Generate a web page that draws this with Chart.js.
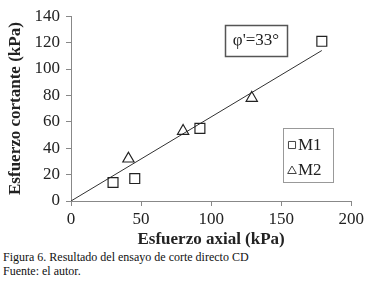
<!DOCTYPE html>
<html>
<head>
<meta charset="utf-8">
<script src="https://cdn.jsdelivr.net/npm/chart.js@4.4.1/dist/chart.umd.min.js"></script>
<style>
  body { margin: 0; background: #fff; }
  #wrap { position: relative; width: 367px; height: 287px; }
  #caption {
    position: absolute; left: 3px; top: 250px;
    font-family: "Times New Roman", serif; font-size: 12px; line-height: 14px; color: #111;
  }
</style>
</head>
<body>
<div id="wrap">
  <div style="width:367px;height:250px"><canvas id="myChart"></canvas></div>
  <div id="caption">Figura 6. Resultado del ensayo de corte directo CD<br>Fuente: el autor.</div>
</div>
<script>
// data
const m1X = [30, 45.5, 92, 179];
const m1Y = [14, 17, 55, 121];
const m2X = [41, 80, 129];
const m2Y = [32, 53, 78];
const fitX = [0, 179];
const fitY = [0, 114];
const xTicks = [0, 50, 100, 150, 200];
const yTicks = [0, 20, 40, 60, 80, 100, 120, 140];
const phiLabel = "\u03c6'=33\u00b0";

const toPts = (xs, ys) => xs.map((x, i) => ({ x: x, y: ys[i] }));
const serif = '"Times New Roman", serif';

// legend + friction angle box drawn inside the plot
const boxes = {
    id: 'boxes',
    afterDraw(chart) {
        const c = chart.ctx;
        c.save();
        // phi box
        c.strokeStyle = '#555';
        c.lineWidth = 1.5;
        c.strokeRect(225.5, 25.5, 62, 31);
        c.fillStyle = '#222';
        c.font = '17px ' + serif;
        c.textAlign = 'center';
        c.textBaseline = 'middle';
        c.fillText(phiLabel, 256, 41);
        // legend
        c.strokeStyle = '#999';
        c.lineWidth = 1;
        c.strokeRect(283.5, 128.5, 50, 54);
        c.textAlign = 'left';
        const items = chart.data.datasets.filter(d => d.label);
        items.forEach((d, i) => {
            const y = 145 + i * 25;
            c.strokeStyle = '#444';
            c.fillStyle = 'rgba(0,0,0,0)';
            c.lineWidth = 1;
            Chart.helpers.drawPoint(c, { pointStyle: d.pointStyle, radius: 5, borderWidth: 1 }, 292, y + (d.pointStyle === 'triangle' ? 1 : 0));
            c.fillStyle = '#222';
            c.fillText(d.label, 298, y + 1);
        });
        c.restore();
    }
};

const ctx = document.getElementById('myChart').getContext('2d');
const myChart = new Chart(ctx, {
    type: 'scatter',
    data: {
        datasets: [
            {
                label: 'M1',
                data: toPts(m1X, m1Y),
                pointStyle: 'rect',
                pointRadius: 7,
                borderColor: '#222',
                backgroundColor: 'rgba(0,0,0,0)',
                borderWidth: 1.2
            },
            {
                label: 'M2',
                data: toPts(m2X, m2Y),
                pointStyle: 'triangle',
                pointRadius: 6.5,
                borderColor: '#222',
                backgroundColor: 'rgba(0,0,0,0)',
                borderWidth: 1.2
            },
            {
                data: toPts(fitX, fitY),
                showLine: true,
                pointRadius: 0,
                borderColor: '#333',
                borderWidth: 1
            }
        ]
    },
    options: {
        responsive: true,
        maintainAspectRatio: false,
        animation: false,
        layout: { padding: { top: 12, right: 15, left: 0, bottom: 0 } },
        scales: {
            x: {
                type: 'linear',
                min: 0,
                max: 200,
                afterBuildTicks: s => { s.ticks = xTicks.map(v => ({ value: v })); },
                afterFit: s => { s.height = 49; },
                grid: { drawOnChartArea: false, tickLength: 5, color: '#888' },
                border: { color: '#888' },
                ticks: { color: '#222', padding: 3, font: { family: serif, size: 17 } },
                title: {
                    display: true,
                    text: 'Esfuerzo axial (kPa)',
                    color: '#222',
                    padding: { top: 0, bottom: 0 },
                    font: { family: serif, size: 17, weight: 'bold' }
                }
            },
            y: {
                min: 0,
                max: 140,
                afterBuildTicks: s => { s.ticks = yTicks.map(v => ({ value: v })); },
                afterFit: s => { s.width = 71; },
                grid: { drawOnChartArea: false, tickLength: 5, color: '#888' },
                border: { color: '#888' },
                ticks: { color: '#222', padding: 6, font: { family: serif, size: 17 } },
                title: {
                    display: true,
                    text: 'Esfuerzo cortante (kPa)',
                    color: '#222',
                    padding: { top: 5, bottom: 0 },
                    font: { family: serif, size: 17, weight: 'bold' }
                }
            }
        },
        plugins: {
            legend: { display: false },
            tooltip: { enabled: false }
        }
    },
    plugins: [boxes]
});
</script>
</body>
</html>
